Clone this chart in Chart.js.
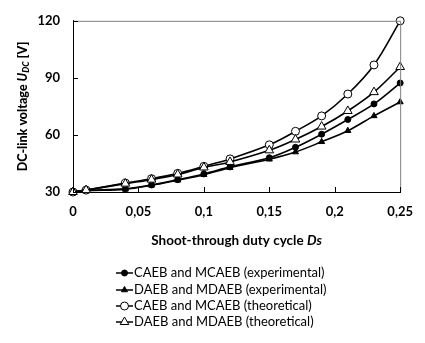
<!DOCTYPE html>
<html>
<head>
<meta charset="utf-8">
<script src="https://cdn.jsdelivr.net/npm/chart.js@4/dist/chart.umd.min.js"></script>
<style>
html,body{margin:0;padding:0;background:#fff;}
#wrap{width:425px;height:343px;position:relative;}
</style>
</head>
<body>
<div id="wrap"><canvas id="c" width="425" height="343"></canvas></div>
<script>
// ---- data ----
const dutyCycle = [0, 0.01, 0.04, 0.06, 0.08, 0.1, 0.12, 0.15, 0.17, 0.19, 0.21, 0.23, 0.25];
const caebExperimental = [30, 30.8, 31.7, 33.7, 36.5, 39.5, 43.2, 48.0, 53.5, 60.4, 68.1, 76.3, 87.3];
const daebExperimental = [30, 30.7, 31.4, 33.5, 36.2, 39.1, 42.8, 47.2, 51.0, 56.4, 62.2, 70.0, 77.3];
const caebTheoretical = [30, 31.0, 34.7, 37.0, 39.8, 43.5, 47.4, 54.8, 61.9, 70.0, 81.5, 96.8, 120];
const daebTheoretical = [30, 31.0, 34.4, 36.5, 39.2, 42.9, 45.8, 51.9, 57.6, 64.4, 72.6, 82.5, 95.7];
const seriesNames = [
  'CAEB and MCAEB (experimental)',
  'DAEB and MDAEB (experimental)',
  'CAEB and MCAEB (theoretical)',
  'DAEB and MDAEB (theoretical)'
];
const xTicks = [0, 0.05, 0.1, 0.15, 0.2, 0.25];
const yTicks = [30, 60, 90, 120];

const FONT = 'Lato, "Open Sans", sans-serif';
const toPts = arr => arr.map((v, i) => ({x: dutyCycle[i], y: v}));

const styles = [
  {pointStyle: 'circle', pointRadius: 3, bg: '#000'},
  {pointStyle: 'triangle', pointRadius: 3.5, bg: '#000'},
  {pointStyle: 'circle', pointRadius: 4, bg: '#fff'},
  {pointStyle: 'triangle', pointRadius: 5, bg: '#fff'}
];
const values = [caebExperimental, daebExperimental, caebTheoretical, daebTheoretical];

const datasets = values.map((v, i) => ({
  label: seriesNames[i],
  data: toPts(v),
  borderColor: '#000',
  borderWidth: 1.6,
  backgroundColor: styles[i].bg,
  pointStyle: styles[i].pointStyle,
  pointRadius: styles[i].pointRadius,
  pointBorderWidth: 1,
  pointBorderColor: '#000',
  pointBackgroundColor: styles[i].bg,
  tension: 0.35,
  clip: false,
  order: 4 - i
}));

const fmt = v => parseFloat(Number(v).toFixed(2)).toString().replace('.', ',');

const decor = {
  id: 'decor',
  afterDraw(chart) {
    const ctx = chart.ctx;
    const a = chart.chartArea;
    const xs = chart.scales.x, ys = chart.scales.y;
    ctx.save();
    // frame top/right
    ctx.strokeStyle = '#7f7f7f';
    ctx.lineWidth = 1;
    ctx.beginPath();
    ctx.moveTo(a.left, a.top + 0.5); ctx.lineTo(a.right + 0.5, a.top + 0.5);
    ctx.lineTo(a.right + 0.5, a.bottom);
    ctx.stroke();
    // inward ticks
    ctx.strokeStyle = '#000';
    ctx.beginPath();
    xTicks.forEach(t => {
      const px = Math.round(xs.getPixelForValue(t)) + 0.5;
      ctx.moveTo(px, a.bottom); ctx.lineTo(px, a.bottom - 5);
    });
    yTicks.forEach(t => {
      const py = Math.round(ys.getPixelForValue(t)) + 0.5;
      ctx.moveTo(a.left, py); ctx.lineTo(a.left + 5, py);
    });
    ctx.stroke();

    // y-axis title with italic U and subscript DC
    ctx.fillStyle = '#000';
    ctx.textBaseline = 'middle';
    const partsY = [
      {t: 'DC-link voltage ', f: '900 12.5px ' + FONT, dy: 0},
      {t: 'U', f: 'italic 900 12.5px ' + FONT, dy: 0},
      {t: 'DC', f: 'italic 900 8.5px ' + FONT, dy: 3},
      {t: ' [V]', f: '900 12.5px ' + FONT, dy: 0}
    ];
    let total = 0;
    partsY.forEach(p => { ctx.font = p.f; p.w = ctx.measureText(p.t).width; total += p.w; });
    ctx.save();
    ctx.translate(23, (a.top + a.bottom) / 2);
    ctx.rotate(-Math.PI / 2);
    let x0 = -total / 2;
    ctx.textAlign = 'left';
    partsY.forEach(p => { ctx.font = p.f; ctx.fillText(p.t, x0, p.dy); x0 += p.w; });
    ctx.restore();

    // x-axis title
    const partsX = [
      {t: 'Shoot-through duty cycle ', f: 'bold 13.5px ' + FONT},
      {t: 'Ds', f: 'italic bold 13.5px ' + FONT}
    ];
    total = 0;
    partsX.forEach(p => { ctx.font = p.f; p.w = ctx.measureText(p.t).width; total += p.w; });
    x0 = (a.left + a.right) / 2 - total / 2;
    ctx.textAlign = 'left';
    partsX.forEach(p => { ctx.font = p.f; ctx.fillText(p.t, x0, 241); x0 += p.w; });

    // legend
    const rowsY = [273, 290, 306, 322];
    chart.data.datasets.forEach((ds, i) => {
      const y = rowsY[i];
      ctx.strokeStyle = '#000';
      ctx.lineWidth = 1.5;
      ctx.beginPath();
      ctx.moveTo(116, y); ctx.lineTo(133, y);
      ctx.stroke();
      ctx.lineWidth = 1;
      ctx.fillStyle = ds.pointBackgroundColor;
      Chart.helpers.drawPoint(ctx, {pointStyle: ds.pointStyle, radius: ds.pointRadius, rotation: 0, borderWidth: 1}, 124.5, y);
      ctx.fillStyle = '#000';
      ctx.font = '13px ' + FONT;
      ctx.textAlign = 'left';
      ctx.fillText(ds.label, 134, y);
    });
    ctx.restore();
  }
};

new Chart(document.getElementById('c'), {
  type: 'line',
  data: {datasets},
  options: {
    responsive: false,
    animation: false,
    events: [],
    layout: {padding: {left: 0, right: 17, top: 15, bottom: 0}},
    plugins: {legend: {display: false}, tooltip: {enabled: false}},
    scales: {
      x: {
        type: 'linear', min: 0, max: 0.25,
        afterFit: s => { s.height = 151; },
        afterBuildTicks: s => { s.ticks = xTicks.map(v => ({value: v})); },
        grid: {display: false, drawTicks: false},
        border: {display: true, color: '#000', width: 1},
        ticks: {padding: 12, color: '#000', font: {family: FONT, size: 13, weight: 'bold'}, callback: v => fmt(v), maxRotation: 0}
      },
      y: {
        min: 30, max: 120,
        afterFit: s => { s.width = 73; },
        afterBuildTicks: s => { s.ticks = yTicks.map(v => ({value: v})); },
        grid: {display: false, drawTicks: false},
        border: {display: true, color: '#000', width: 1},
        ticks: {padding: 13, color: '#000', font: {family: FONT, size: 13, weight: 'bold'}}
      }
    }
  },
  plugins: [decor]
});
</script>
</body>
</html>
